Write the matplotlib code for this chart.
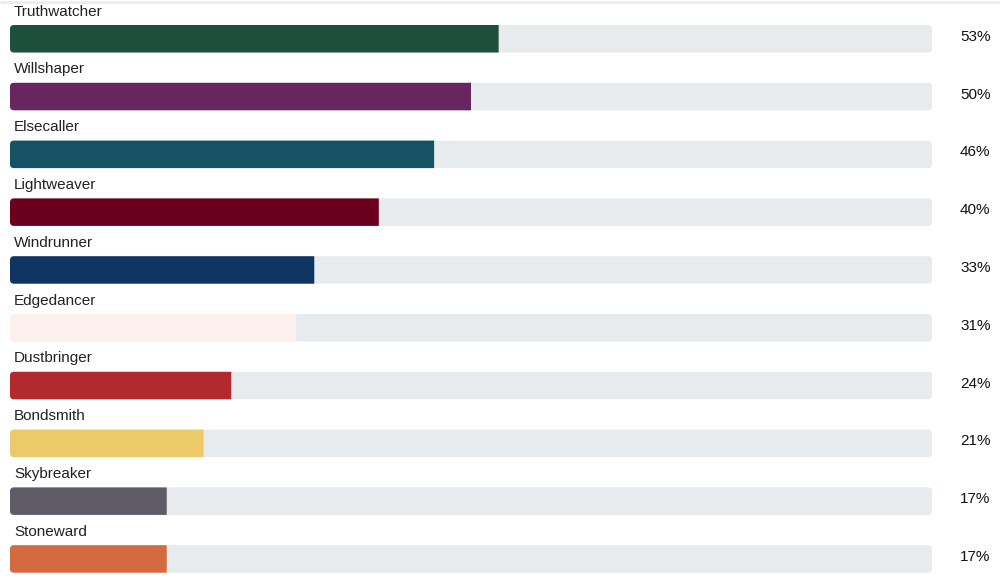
import matplotlib.pyplot as plt
from matplotlib.patches import FancyBboxPatch, PathPatch
from matplotlib.path import Path

plt.rcParams['font.family'] = ['Liberation Sans', 'DejaVu Sans']

names = ['Truthwatcher', 'Willshaper', 'Elsecaller', 'Lightweaver', 'Windrunner',
         'Edgedancer', 'Dustbringer', 'Bondsmith', 'Skybreaker', 'Stoneward']
values = [53, 50, 46, 40, 33, 31, 24, 21, 17, 17]
colors = ['#1f4e3d', '#67265f', '#135364', '#6b001e', '#0f3562',
          '#fcf1ee', '#b22a2d', '#edca68', '#5f5c68', '#d46a40']

W, H = 1000, 578
fig = plt.figure(figsize=(W / 100, H / 100), dpi=100)
ax = fig.add_axes([0, 0, 1, 1])
ax.set_xlim(0, W)
ax.set_ylim(H, 0)
ax.axis('off')

x0, track_w = 10, 922
bar_h = 27.5
top0, step = 25, 57.8
r = 4


def left_rounded(x, y, w, h, r):
    # rectangle with rounded left corners only
    verts = [(x + r, y), (x + w, y), (x + w, y + h), (x + r, y + h),
             (x, y + h), (x, y + h - r), (x, y + r), (x, y), (x + r, y), (x + r, y)]
    codes = [Path.MOVETO, Path.LINETO, Path.LINETO, Path.LINETO,
             Path.CURVE3, Path.CURVE3, Path.LINETO, Path.CURVE3, Path.CURVE3, Path.CLOSEPOLY]
    return Path(verts, codes)


# faint shadow line at top
ax.plot([0, W], [1.5, 1.5], color='#ececec', lw=2, solid_capstyle='butt')

for i, (name, v, c) in enumerate(zip(names, values, colors)):
    top = top0 + i * step
    ax.add_patch(FancyBboxPatch((x0 + r, top + r), track_w - 2 * r, bar_h - 2 * r,
                                boxstyle=f'round,pad={r}', fc='#e8ebee', ec='none'))
    fw = v / 100 * track_w
    ax.add_patch(PathPatch(left_rounded(x0, top, fw, bar_h, r), fc=c, ec='none'))
    ax.text(x0 + 4, top - 9.5, name, fontsize=11, color='#222222', va='baseline', ha='left')
    ax.text(960, top + bar_h / 2 - 2, f'{v}%', fontsize=11, color='#111111',
            va='center', ha='left')

fig.savefig('out.png', dpi=100)
